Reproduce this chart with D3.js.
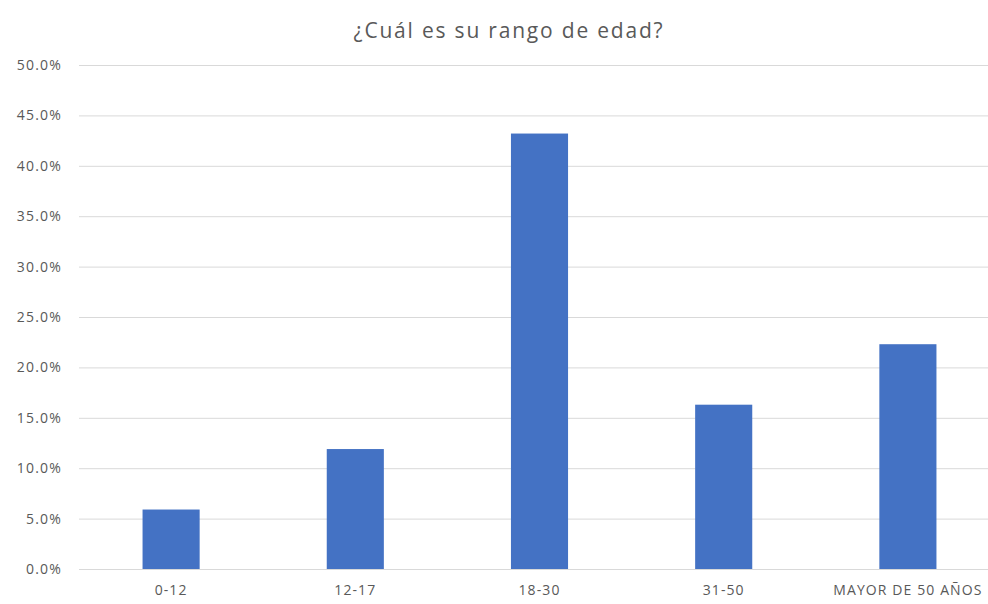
<!DOCTYPE html>
<html>
<head>
<meta charset="utf-8">
<script src="https://cdn.jsdelivr.net/npm/d3@7"></script>
<style>
  html, body { margin: 0; padding: 0; background: #fff; }
  svg { display: block; font-family: "Open Sans", "Noto Sans", sans-serif; }
</style>
</head>
<body>
<svg id="chart" width="988" height="604"></svg>
<script>
// Age-range distribution of respondents
const categories = ["0-12", "12-17", "18-30", "31-50", "MAYOR DE 50 AÑOS"];
const shares = [5.9, 11.9, 43.2, 16.3, 22.3];
const yTicks = [0, 5, 10, 15, 20, 25, 30, 35, 40, 45, 50];
const title = "¿Cuál es su rango de edad?";

const FONT = '"Open Sans", "Noto Sans", sans-serif';
const svg = d3.select("#chart");
const plot = { left: 79, right: 1000, top: 65, bottom: 569 };

const x = d3.scaleBand()
  .domain(categories)
  .range([plot.left, plot.right])
  .paddingInner(0.69)
  .paddingOuter(0.345);

const y = d3.scaleLinear()
  .domain([0, 50])
  .range([plot.bottom, plot.top]);

// Title
svg.append("text")
  .attr("x", 509)
  .attr("y", 38)
  .attr("text-anchor", "middle")
  .attr("fill", "#595959")
  .attr("font-family", FONT)
  .attr("font-size", 21)
  .attr("letter-spacing", 1.8)
  .text(title);

// Horizontal gridlines + y labels
const yAxis = d3.axisLeft(y)
  .tickValues(yTicks)
  .tickSize(-(plot.right - plot.left))
  .tickPadding(17)
  .tickFormat(d => d.toFixed(1) + "%");

const gy = svg.append("g")
  .attr("transform", `translate(${plot.left},0)`)
  .call(yAxis)
  .attr("font-family", FONT);
gy.select(".domain").remove();
gy.selectAll(".tick line").attr("stroke", "#d9d9d9").attr("stroke-width", 1);
gy.selectAll(".tick text")
  .attr("fill", "#595959")
  .attr("font-size", 14)
  .attr("letter-spacing", 1.2);

// Bars
svg.append("g")
  .selectAll("rect")
  .data(categories.map((c, i) => ({ c, v: shares[i] })))
  .join("rect")
  .attr("x", d => x(d.c))
  .attr("y", d => y(d.v))
  .attr("width", x.bandwidth())
  .attr("height", d => y(0) - y(d.v))
  .attr("fill", "#4472c4");

// Category axis
const xAxis = d3.axisBottom(x).tickSize(0).tickPadding(16);
const gx = svg.append("g")
  .attr("transform", `translate(0,${plot.bottom})`)
  .call(xAxis)
  .attr("font-family", FONT);
gx.select(".domain").attr("stroke", "#d9d9d9");
gx.selectAll(".tick text")
  .attr("fill", "#595959")
  .attr("font-size", 14)
  .attr("letter-spacing", 1.1);
</script>
</body>
</html>
